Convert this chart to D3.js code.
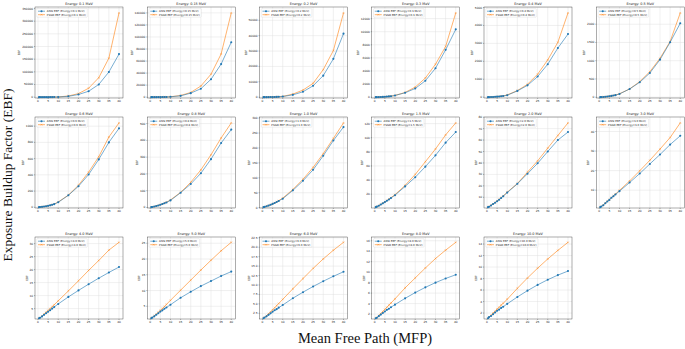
<html><head>
<script src="https://cdnjs.cloudflare.com/ajax/libs/d3/7.8.5/d3.min.js"></script>
<style>
body { margin: 0; background: #fff; }
text { font-family: 'DejaVu Sans', sans-serif; fill: #222; }
.fig-label { font-family: 'Liberation Serif', 'Times New Roman', serif; fill: #111; }
</style>
</head>
<body>
<svg id="chart" width="685" height="349"></svg>
<script>
// MFP points used for every energy
const mfp = [0.5, 1, 2, 3, 4, 5, 6, 7, 8, 10, 15, 20, 25, 30, 35, 40];
const energies = ['0.1', '0.15', '0.2', '0.3', '0.4', '0.5', '0.6', '0.8', '1.0', '1.5', '2.0', '3.0', '4.0', '5.0', '6.0', '8.0', '10.0'];
const tickSteps = [50000, 20000, 10000, 2000, 1000, 500, 200, 100, 50, 20, 10, 10, 5, 5, 2.5, 2, 2];

const ansi = [
  [2.4, 4.6, 13, 30, 60, 105, 170, 260, 380, 750, 3300, 10500, 23300, 50000, 99300, 170000],
  [3.4, 7, 22, 48, 85, 135, 200, 280, 380, 650, 2200, 6700, 14000, 29700, 54900, 91300],
  [3.1, 6.6, 19, 38, 63, 95, 135, 180, 235, 440, 1500, 3500, 7400, 14000, 24900, 41300],
  [2.6, 4.9, 12, 24, 40, 60, 85, 115, 150, 260, 670, 1330, 2510, 4410, 7230, 10360],
  [2.3, 4.0, 8.5, 14.5, 22, 31, 42, 55, 68, 110, 350, 660, 1150, 1840, 2740, 3520],
  [2.0, 3.4, 7.5, 12.5, 19, 27, 36, 46, 57, 90, 226, 410, 665, 1030, 1505, 2027],
  [1.9, 3.0, 5.8, 9.2, 13.2, 18, 24, 31, 39, 62, 148, 260, 404, 590, 800, 973],
  [1.8, 2.8, 5.3, 8.5, 12, 16, 20.5, 25, 30, 42, 88, 140, 204, 288, 384, 464],
  [1.7, 2.6, 4.6, 7, 9.7, 12.6, 15.7, 19, 22.5, 30, 58, 90, 127, 174, 225, 270],
  [1.6, 2.3, 3.7, 5.3, 7, 8.8, 10.6, 12.5, 14.4, 18.5, 31, 44, 59, 75, 93, 108],
  [1.4, 1.8, 2.9, 4.1, 5.3, 6.5, 7.9, 9.4, 10.9, 14.1, 21.8, 30.6, 39.7, 50, 60, 67],
  [1.3, 1.6, 2.3, 3.3, 4.2, 5.0, 6.1, 6.9, 7.8, 9.5, 13.9, 18.5, 23.4, 28.2, 33.3, 37.8],
  [1.3, 1.5, 2.0, 2.6, 3.2, 3.8, 4.4, 5.0, 5.6, 6.8, 9.5, 12.0, 14.4, 16.7, 18.9, 21.0],
  [1.2, 1.4, 1.8, 2.3, 2.8, 3.3, 3.7, 4.2, 4.6, 5.5, 7.7, 9.6, 11.4, 13.0, 14.6, 16.0],
  [1.2, 1.4, 1.7, 2.1, 2.5, 2.9, 3.3, 3.6, 4.0, 4.7, 6.5, 8.1, 9.6, 11.0, 12.3, 13.5],
  [1.2, 1.3, 1.6, 1.9, 2.2, 2.5, 2.8, 3.0, 3.3, 3.8, 5.0, 6.1, 7.1, 8.0, 8.8, 9.5],
  [1.1, 1.3, 1.5, 1.8, 2.1, 2.4, 2.6, 2.9, 3.1, 3.6, 4.8, 5.9, 6.9, 7.8, 8.6, 9.3]
];

const psgd = [
  [2.3, 4.5, 13, 31, 62, 110, 180, 275, 400, 800, 4700, 14000, 35300, 76700, 154000, 332700],
  [3.3, 6.8, 21, 47, 86, 138, 205, 290, 395, 700, 2800, 7800, 18500, 38100, 71700, 140000],
  [3.0, 6.4, 18, 37, 62, 95, 137, 185, 245, 470, 2000, 4600, 9000, 17900, 30300, 54800],
  [2.5, 4.8, 12, 24, 40, 61, 87, 118, 155, 265, 720, 1540, 2920, 5030, 7740, 12870],
  [2.2, 3.9, 8.4, 14.5, 22, 31, 42, 55, 69, 130, 365, 720, 1280, 2080, 3060, 4700],
  [1.9, 3.3, 7.4, 12.5, 19, 27, 36, 47, 59, 95, 226, 428, 700, 1065, 1525, 2310],
  [1.9, 3.0, 5.9, 9.4, 13.6, 18.5, 25, 32, 40, 66, 150, 272, 433, 623, 866, 1040],
  [1.8, 2.8, 5.4, 8.7, 12.4, 16.5, 21, 26, 31, 45, 90, 150, 224, 314, 414, 504],
  [1.7, 2.6, 4.7, 7.2, 10, 13, 16.3, 19.8, 23.5, 32, 61, 95, 135, 181, 232, 284],
  [1.6, 2.3, 3.8, 5.4, 7.2, 9.1, 11, 13, 15, 19.3, 32.5, 48, 66, 84, 104, 121],
  [1.4, 1.9, 3.0, 4.2, 5.5, 6.8, 8.2, 9.7, 11.2, 14.5, 22, 32, 41.8, 53, 64, 75],
  [1.3, 1.6, 2.4, 3.4, 4.3, 5.2, 6.2, 7.1, 8.0, 9.9, 14.7, 19.9, 25.3, 31, 36.9, 44.4],
  [1.3, 1.5, 2.1, 2.9, 3.6, 4.3, 5.0, 5.8, 6.5, 8.0, 11.8, 15.7, 19.7, 23.5, 27.5, 30.5],
  [1.2, 1.4, 2.0, 2.5, 3.1, 3.7, 4.3, 4.9, 5.6, 6.9, 10.1, 13.3, 16.5, 19.6, 22.6, 25.3],
  [1.2, 1.4, 1.9, 2.4, 2.9, 3.4, 4.0, 4.5, 5.1, 6.2, 9.0, 11.7, 14.4, 16.9, 19.2, 21.3],
  [1.2, 1.3, 1.7, 2.1, 2.5, 2.9, 3.3, 3.7, 4.1, 4.9, 7.0, 8.9, 10.8, 12.6, 14.2, 15.7],
  [1.1, 1.3, 1.6, 2.0, 2.3, 2.7, 3.0, 3.4, 3.7, 4.4, 6.3, 8.1, 9.8, 11.4, 12.9, 14.3]
];

const xTicks = [0, 5, 10, 15, 20, 25, 30, 35, 40];
const blue = '#1f77b4', orange = '#ff7f0e';

const svg = d3.select('#chart');
const pw = 88;
const rowTops = [7, 117, 237];
const rowHeights = [91, 91, 82];

energies.forEach((en, i) => {
  const row = Math.floor(i / 6), col = i % 6;
  const left = 35 + col * 112.25, top = rowTops[row];
  const ph = rowHeights[row];
  const g = svg.append('g').attr('transform', `translate(${left},${top})`);

  const all = ansi[i].concat(psgd[i]);
  const lo = d3.min(all), hi = d3.max(all);
  const x = d3.scaleLinear().domain([-1.475, 41.975]).range([0, pw]);
  const y = d3.scaleLinear().domain([lo - 0.01 * (hi - lo), hi + 0.07 * (hi - lo)]).range([ph, 0]);

  const step = tickSteps[i];
  const yTicks = d3.range(Math.ceil(y.domain()[0] / step) * step, y.domain()[1], step);
  const fmt = step % 1 ? d3.format('.1f') : d3.format('d');

  // grid
  g.selectAll('.gx').data(xTicks).join('line')
    .attr('x1', d => x(d)).attr('x2', d => x(d)).attr('y1', 0).attr('y2', ph)
    .attr('stroke', '#dedede').attr('stroke-width', 0.45);
  g.selectAll('.gy').data(yTicks).join('line')
    .attr('y1', d => y(d)).attr('y2', d => y(d)).attr('x1', 0).attr('x2', pw)
    .attr('stroke', '#dedede').attr('stroke-width', 0.45);

  // frame
  g.append('rect').attr('width', pw).attr('height', ph)
    .attr('fill', 'none').attr('stroke', '#333').attr('stroke-width', 0.4);

  // tick labels
  g.selectAll('.xt').data(xTicks).join('text')
    .attr('x', d => x(d)).attr('y', ph + 4.2)
    .attr('text-anchor', 'middle').attr('font-size', 2.9).text(d => d);
  g.selectAll('.xtm').data(xTicks).join('line')
    .attr('x1', d => x(d)).attr('x2', d => x(d)).attr('y1', ph).attr('y2', ph + 1)
    .attr('stroke', '#333').attr('stroke-width', 0.35);
  const yl = g.selectAll('.yt').data(yTicks).join('text')
    .attr('x', -1.8).attr('y', d => y(d) + 1)
    .attr('text-anchor', 'end').attr('font-size', 2.9).text(d => fmt(d));
  g.selectAll('.ytm').data(yTicks).join('line')
    .attr('y1', d => y(d)).attr('y2', d => y(d)).attr('x1', -1).attr('x2', 0)
    .attr('stroke', '#333').attr('stroke-width', 0.35);
  let maxW = 0;
  yl.each(function () { maxW = Math.max(maxW, this.getComputedTextLength()); });
  g.append('text')
    .attr('transform', `translate(${-maxW - 3.5},${ph / 2}) rotate(-90)`)
    .attr('text-anchor', 'middle').attr('font-size', 2.9).text('EBF');

  // title
  g.append('text').attr('x', pw / 2).attr('y', -2)
    .attr('text-anchor', 'middle').attr('font-size', 3.4).text(`Energy: ${en} MeV`);

  const line = d3.line().x((d, k) => x(mfp[k])).y(d => y(d));

  g.append('path').datum(psgd[i]).attr('d', line)
    .attr('fill', 'none').attr('stroke', orange).attr('stroke-width', 0.6);
  g.selectAll('.pm').data(psgd[i]).join('path')
    .attr('d', (d, k) => {
      const cx = x(mfp[k]), cy = y(d), s = 0.9;
      return `M${cx - s},${cy - s}L${cx + s},${cy + s}M${cx - s},${cy + s}L${cx + s},${cy - s}`;
    })
    .attr('stroke', orange).attr('stroke-width', 0.35);

  g.append('path').datum(ansi[i]).attr('d', line)
    .attr('fill', 'none').attr('stroke', blue).attr('stroke-width', 0.6);
  g.selectAll('.am').data(ansi[i]).join('circle')
    .attr('cx', (d, k) => x(mfp[k])).attr('cy', d => y(d)).attr('r', 1.05)
    .attr('fill', blue);

  // legend
  const lg = g.append('g').attr('transform', 'translate(1.8,1.6)');
  const box = lg.append('rect').attr('height', 8.6).attr('rx', 0.6)
    .attr('fill', 'rgba(255,255,255,0.85)').attr('stroke', '#ccc').attr('stroke-width', 0.3);
  const items = [
    { label: `ANSI EBF (Energy=${en} MeV)`, color: blue, mark: 'o' },
    { label: `PSGD EBF (Energy=${en} MeV)`, color: orange, mark: 'x' }
  ];
  let tw = 0;
  items.forEach((it, k) => {
    const ly = 2.6 + k * 3.5;
    lg.append('line').attr('x1', 1.2).attr('x2', 8.2).attr('y1', ly).attr('y2', ly)
      .attr('stroke', it.color).attr('stroke-width', 0.6);
    if (it.mark === 'o') {
      lg.append('circle').attr('cx', 4.7).attr('cy', ly).attr('r', 1.05).attr('fill', it.color);
    } else {
      lg.append('path').attr('d', `M3.8,${ly - 0.9}L5.6,${ly + 0.9}M3.8,${ly + 0.9}L5.6,${ly - 0.9}`)
        .attr('stroke', it.color).attr('stroke-width', 0.35);
    }
    const t = lg.append('text').attr('x', 10).attr('y', ly + 1).attr('font-size', 2.7).text(it.label);
    tw = Math.max(tw, t.node().getComputedTextLength());
  });
  box.attr('width', tw + 11.5);
});

svg.append('text').attr('class', 'fig-label')
  .attr('transform', 'translate(12,175) rotate(-90)')
  .attr('text-anchor', 'middle').attr('font-size', 13.5).text('Exposure Buildup Factor (EBF)');
svg.append('text').attr('class', 'fig-label')
  .attr('x', 365).attr('y', 343)
  .attr('text-anchor', 'middle').attr('font-size', 14.5).text('Mean Free Path (MFP)');
</script>
</body></html>
